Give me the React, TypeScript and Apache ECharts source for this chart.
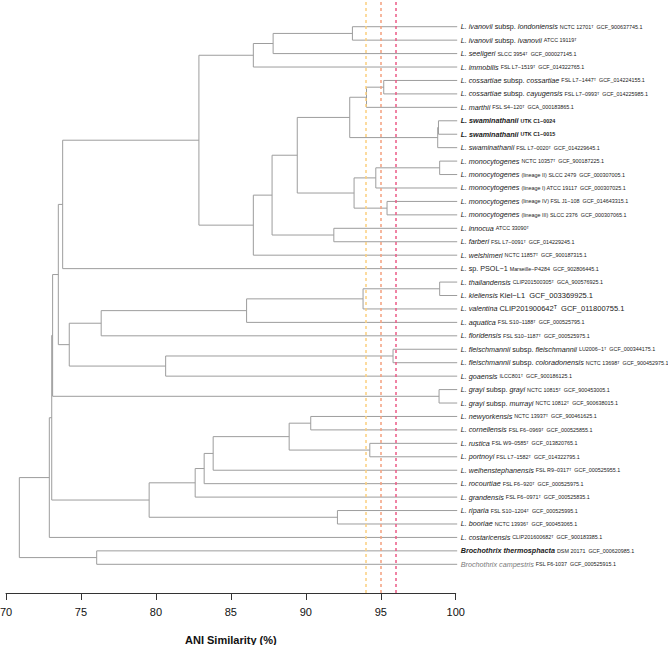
import React, { useEffect, useRef } from "react";
import * as echarts from "echarts";

// ---------- DATA ----------
const leafSpecies = [
  "L. ivanovii", "L. ivanovii", "L. seeligeri", "L. immobilis", "L. cossartiae", "L. cossartiae", "L. marthii",
  "L. swaminathanii", "L. swaminathanii", "L. swaminathanii",
  "L. monocytogenes", "L. monocytogenes", "L. monocytogenes", "L. monocytogenes", "L. monocytogenes",
  "L. innocua", "L. farberi", "L. welshimeri", "L.", "L. thailandensis", "L. kieliensis", "L. valentina",
  "L. aquatica", "L. floridensis", "L. fleischmannii", "L. fleischmannii", "L. goaensis", "L. grayi", "L. grayi",
  "L. newyorkensis", "L. cornellensis", "L. rustica", "L. portnoyi", "L. weihenstephanensis", "L. rocourtiae",
  "L. grandensis", "L. riparia", "L. booriae", "L. costaricensis", "Brochothrix thermosphacta", "Brochothrix campestris",
];
const leafSubsp = [
  "londoniensis", "ivanovii", "", "", "cossartiae", "cayugensis", "", "", "", "",
  "", "", "", "", "", "", "", "", "", "", "", "",
  "", "", "fleischmannii", "coloradonensis", "", "grayi", "murrayi",
  "", "", "", "", "", "", "", "", "", "", "", "",
];
const leafPlain = [
  "", "", "", "", "", "", "", "", "", "", "", "", "", "", "", "", "", "", "sp. PSOL−1", "", "", "",
  "", "", "", "", "", "", "", "", "", "", "", "", "", "", "", "", "", "", "",
];
const leafStrain = [
  "NCTC 12701ᵀ  GCF_900637745.1",
  "ATCC 19119ᵀ",
  "SLCC 3954ᵀ  GCF_000027145.1",
  "FSL L7−1519ᵀ  GCF_014322765.1",
  "FSL L7−1447ᵀ  GCF_014224155.1",
  "FSL L7−0993ᵀ  GCF_014225985.1",
  "FSL S4−120ᵀ  GCA_000183865.1",
  "UTK C1−0024",
  "UTK C1−0015",
  "FSL L7−0020ᵀ  GCF_014229645.1",
  "NCTC 10357ᵀ  GCF_900187225.1",
  "(lineage II) SLCC 2479  GCF_000307005.1",
  "(lineage I) ATCC 19117  GCF_000307025.1",
  "(lineage IV) FSL J1−108  GCF_014643315.1",
  "(lineage III) SLCC 2376  GCF_000307065.1",
  "ATCC 33090ᵀ",
  "FSL L7−0091ᵀ  GCF_014229245.1",
  "NCTC 11857ᵀ  GCF_900187315.1",
  "Marseille−P4284  GCF_902806445.1",
  "CLIP201500305ᵀ  GCA_900576925.1",
  "Kiel−L1  GCF_003369925.1",
  "CLIP201900642ᵀ  GCF_011800755.1",
  "FSL S10−1188ᵀ  GCF_000525795.1",
  "FSL S10−1187ᵀ  GCF_000525975.1",
  "LU2006−1ᵀ  GCF_000344175.1",
  "NCTC 13698ᵀ  GCF_900452975.1",
  "ILCC801ᵀ  GCF_900186125.1",
  "NCTC 10815ᵀ  GCF_900453005.1",
  "NCTC 10812ᵀ  GCF_900638015.1",
  "NCTC 13937ᵀ  GCF_900461625.1",
  "FSL F6−0969ᵀ  GCF_000525855.1",
  "FSL W9−0585ᵀ  GCF_013820765.1",
  "FSL L7−1582ᵀ  GCF_014322795.1",
  "FSL R9−0317ᵀ  GCF_000525955.1",
  "FSL F6−920ᵀ  GCF_000525975.1",
  "FSL F6−0971ᵀ  GCF_000525835.1",
  "FSL S10−1204ᵀ  GCF_000525995.1",
  "NCTC 13936ᵀ  GCF_900453065.1",
  "CLIP201600682ᵀ  GCF_900183385.1",
  "DSM 20171  GCF_000620985.1",
  "FSL F6-1037  GCF_000525915.1",
];
const boldLeaves = [7, 8];
const boldSpeciesLeaves = [39];
const largeStrainLeaves = [20, 21];
const greyLeaves = [40];

// hclust-style merges: negative = leaf (-(i+1)), positive = earlier merge (1-based); third = ANI height
const merges: [number, number, number][] = [
  [-1, -2, 93.11],
  [1, -3, 87.82],
  [2, -4, 86.5],
  [-5, -6, 95.2],
  [4, -7, 94.05],
  [-8, -9, 98.85],
  [6, -10, 98.8],
  [5, 7, 92.93],
  [-11, -12, 98.93],
  [9, -13, 94.67],
  [-14, -15, 95.42],
  [10, 11, 93.22],
  [8, 12, 89.43],
  [-16, -17, 91.87],
  [13, 14, 87.75],
  [15, -18, 86.5],
  [3, 16, 82.87],
  [17, -19, 73.78],
  [-20, -21, 98.93],
  [19, -22, 93.82],
  [20, -23, 86.05],
  [21, -24, 76.35],
  [-25, -26, 95.82],
  [23, -27, 80.65],
  [22, 24, 74.22],
  [18, 25, 73.49],
  [-28, -29, 98.89],
  [26, 27, 73.11],
  [-30, -31, 90.33],
  [-32, -33, 94.27],
  [29, 30, 88.89],
  [31, -34, 83.82],
  [32, -35, 83.22],
  [33, -36, 82.62],
  [-37, -38, 92.11],
  [34, 35, 79.55],
  [28, 36, 73.05],
  [37, -39, 72.89],
  [-40, -41, 76.05],
  [38, 39, 70.89],
];
const leafTip = 100.1;

const xMin = 70;
const xMax = 100;
const xStep = 5;
const thresholds = [94, 95, 96];
const thresholdColors = ["#fbd07f", "#f4a07f", "#ec5b86"];

// ---------- BUILD ----------
const FONT = "'Liberation Sans', Arial, Helvetica, sans-serif";
const TXT = "#1a1a1a";

function buildTree() {
  const nodeH: number[] = [];
  const nodeY: number[] = [];
  const pos = (ref: number) =>
    ref < 0 ? { h: leafTip, y: -(-ref - 1) } : { h: nodeH[ref - 1], y: nodeY[ref - 1] };
  const data: number[][] = [];
  merges.forEach(([a, b, h]) => {
    const pa = pos(a);
    const pb = pos(b);
    nodeH.push(h);
    nodeY.push((pa.y + pb.y) / 2);
    data.push([h, pa.y, pa.h, pb.y, pb.h]);
  });
  return data;
}

function leafLabel(i: number): string {
  const bold = boldLeaves.includes(i);
  const spStyle = bold || boldSpeciesLeaves.includes(i) ? "itb" : greyLeaves.includes(i) ? "itg" : "it";
  let s = `{${spStyle}|${leafSpecies[i]} }`;
  if (leafSubsp[i]) s += `{n|subsp. }{it|${leafSubsp[i]} }`;
  if (leafPlain[i]) s += `{n|${leafPlain[i]} }`;
  const st = bold ? "sb" : largeStrainLeaves.includes(i) ? "lg" : "s";
  s += `{${st}|${leafStrain[i]}}`;
  return s;
}

const base = { fontFamily: FONT, fill: TXT };
const richStyles = {
  it: { ...base, fontStyle: "italic", fontSize: 7.2 },
  itb: { ...base, fontStyle: "italic", fontWeight: "bold", fontSize: 7.2 },
  itg: { ...base, fontStyle: "italic", fontSize: 7.2, fill: "#7a7a7a" },
  n: { ...base, fontSize: 7.2 },
  s: { ...base, fontSize: 5.4 },
  sb: { ...base, fontSize: 5.4, fontWeight: "bold" },
  lg: { ...base, fontSize: 7.5 },
};

export default function App() {
  const ref = useRef<HTMLDivElement>(null);
  useEffect(() => {
    if (!ref.current) return;
    const chart = echarts.init(ref.current, undefined, { renderer: "svg" });
    const treeData = buildTree();
    const leafData = leafSpecies.map((_, i) => [leafTip, -i, i]);
    chart.setOption({
      animation: false,
      backgroundColor: "#ffffff",
      grid: {
        left: 6,
        right: 212.3,
        top: 0,
        bottom: 52,
        containLabel: false,
        outerBoundsMode: "none",
      },
      xAxis: {
        type: "value",
        position: "bottom",
        min: xMin,
        max: xMax,
        interval: xStep,
        splitLine: { show: false },
        axisLine: { show: true, onZero: false, lineStyle: { color: "#333", width: 1 } },
        axisTick: { show: true, length: 7, lineStyle: { color: "#333", width: 1 } },
        axisLabel: { fontSize: 11, color: "#111", fontFamily: FONT, margin: 13 },
        name: "ANI Similarity (%)",
        nameLocation: "middle",
        nameGap: 41,
        nameTextStyle: { fontSize: 11, fontWeight: "bold", color: "#111", fontFamily: FONT },
      },
      yAxis: {
        type: "value",
        min: -42.135,
        max: 1.987,
        show: false,
        splitLine: { show: false },
        axisLine: { show: false, onZero: false },
        axisTick: { show: false },
        axisLabel: { show: false },
      },
      series: [
        {
          type: "custom",
          coordinateSystem: "cartesian2d",
          encode: { x: 0, y: 1 },
          data: treeData,
          silent: true,
          renderItem: (_params: any, api: any) => {
            const h = api.value(0);
            const ya = api.value(1);
            const ha = api.value(2);
            const yb = api.value(3);
            const hb = api.value(4);
            const pts = [
              api.coord([ha, ya]),
              api.coord([h, ya]),
              api.coord([h, yb]),
              api.coord([hb, yb]),
            ];
            return {
              type: "polyline",
              shape: { points: pts },
              style: { stroke: "#9d9d9d", lineWidth: 1, fill: null },
            };
          },
          markLine: {
            silent: true,
            symbol: ["none", "none"],
            label: { show: false },
            data: thresholds.map((t, k) => ({
              xAxis: t,
              lineStyle: { color: thresholdColors[k], type: [3, 3], width: 1.5 },
            })),
          },
        },
        {
          type: "custom",
          coordinateSystem: "cartesian2d",
          encode: { x: 0, y: 1 },
          data: leafData,
          silent: true,
          renderItem: (_params: any, api: any) => {
            const p = api.coord([api.value(0), api.value(1)]);
            const i = api.value(2);
            return {
              type: "text",
              x: p[0] + 3.5,
              y: p[1],
              style: {
                text: leafLabel(i),
                rich: richStyles,
                align: "left",
                verticalAlign: "middle",
                fontSize: 7.2,
                fontFamily: FONT,
                fill: TXT,
              },
            };
          },
        },
      ],
    });
    return () => chart.dispose();
  }, []);
  return (
    <div
      ref={ref}
      style={{ position: "absolute", left: 0, top: 0, width: 668, height: 645, background: "#fff" }}
    />
  );
}
